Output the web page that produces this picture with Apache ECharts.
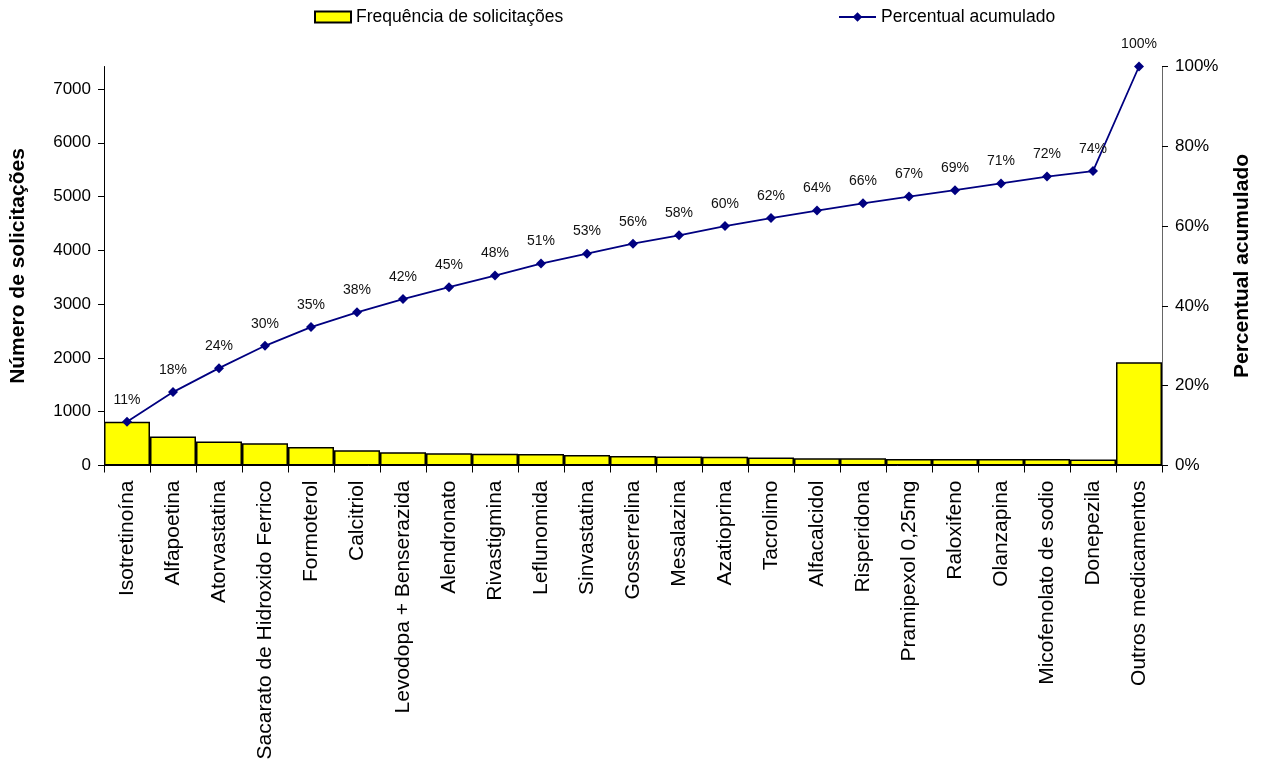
<!DOCTYPE html>
<html>
<head>
<meta charset="utf-8">
<script src="https://cdn.jsdelivr.net/npm/echarts@6/dist/echarts.min.js"></script>
<style>
  html, body { margin: 0; padding: 0; background: #fff; }
  #chart { width: 1261px; height: 765px; }
</style>
</head>
<body>
<div id="chart"></div>
<script>
// Medicamentos (categorias do eixo X)
const medicamentos = [
  'Isotretinoína', 'Alfapoetina', 'Atorvastatina', 'Sacarato de Hidroxido Ferrico',
  'Formoterol', 'Calcitriol', 'Levodopa + Benserazida', 'Alendronato', 'Rivastigmina',
  'Leflunomida', 'Sinvastatina', 'Gosserrelina', 'Mesalazina', 'Azatioprina',
  'Tacrolimo', 'Alfacalcidol', 'Risperidona', 'Pramipexol 0,25mg', 'Raloxifeno',
  'Olanzapina', 'Micofenolato de sodio', 'Donepezila', 'Outros medicamentos'
];

// Frequência de solicitações por medicamento
const frequencia = [
  815, 540, 447, 415, 345, 285, 248, 228, 220, 215, 193, 176, 165,
  164, 147, 134, 133, 122, 121, 120, 120, 110, 1920
];

// Percentual acumulado (%)
const percentualAcumulado = [
  10.96, 18.4, 24.4, 30.0, 34.7, 38.4, 41.7, 44.7, 47.6, 50.6, 53.1, 55.6,
  57.7, 60.0, 62.0, 63.9, 65.7, 67.4, 69.0, 70.7, 72.4, 73.8, 100
];

// Escala do eixo esquerdo: o topo corresponde ao total de solicitações
const totalSolicitacoes = 7418;

const font = 'Liberation Sans, Arial, sans-serif';

const chart = echarts.init(document.getElementById('chart'), null, { renderer: 'canvas' });

chart.setOption({
  backgroundColor: '#ffffff',
  animation: false,
  textStyle: { fontFamily: font },
  legend: [
    {
      left: 309, top: 3,
      itemWidth: 36, itemHeight: 11,
      textStyle: { fontSize: 17.5, color: '#000', fontFamily: font },
      data: [{ name: 'Frequência de solicitações', icon: 'rect' }]
    },
    {
      left: 833, top: 3,
      itemWidth: 37, itemHeight: 12,
      itemGap: 2,
      textStyle: { fontSize: 17.5, color: '#000', fontFamily: font },
      data: [{ name: 'Percentual acumulado' }]
    }
  ],
  grid: { left: 103, right: 96, top: 66.5, bottom: 299.5, containLabel: false },
  xAxis: {
    type: 'category',
    data: medicamentos,
    boundaryGap: true,
    axisLine: { lineStyle: { color: '#000', width: 1 } },
    axisTick: { show: true, alignWithLabel: false, length: 7, lineStyle: { color: '#000' } },
    axisLabel: {
      interval: 0, rotate: 90, margin: 15,
      fontSize: 21, color: '#000', fontFamily: font
    },
    splitLine: { show: false }
  },
  yAxis: [
    {
      type: 'value',
      min: 0, max: totalSolicitacoes, interval: 1000,
      name: 'Número de solicitações',
      nameLocation: 'middle', nameGap: 75, nameRotate: 90,
      nameTextStyle: { fontSize: 21, fontWeight: 'bold', color: '#000', fontFamily: font },
      axisLine: { show: true, lineStyle: { color: '#000' } },
      axisTick: { show: true, length: 6, lineStyle: { color: '#000' } },
      axisLabel: {
        fontSize: 17, color: '#000', margin: 13, fontFamily: font,
        showMaxLabel: false,
        formatter: v => (v % 1000 === 0 ? String(v) : '')
      },
      splitLine: { show: false }
    },
    {
      type: 'value',
      min: 0, max: 100, interval: 20,
      position: 'right',
      name: 'Percentual acumulado',
      nameLocation: 'middle', nameGap: 70, nameRotate: 90,
      nameTextStyle: { fontSize: 21, fontWeight: 'bold', color: '#000', fontFamily: font },
      axisLine: { show: true, lineStyle: { color: '#666' } },
      axisTick: { show: true, length: 6, lineStyle: { color: '#000' } },
      axisLabel: { fontSize: 17, color: '#000', margin: 13, formatter: '{value}%', fontFamily: font },
      splitLine: { show: false }
    }
  ],
  series: [
    {
      name: 'Frequência de solicitações',
      type: 'bar',
      yAxisIndex: 0,
      data: frequencia,
      barCategoryGap: '0%',
      itemStyle: { color: '#FFFF00', borderColor: '#000', borderWidth: 1.5 },
      z: 2
    },
    {
      name: 'Percentual acumulado',
      type: 'line',
      yAxisIndex: 1,
      data: percentualAcumulado,
      symbol: 'diamond',
      symbolSize: 10,
      lineStyle: { color: '#000080', width: 1.8 },
      itemStyle: { color: '#000080' },
      label: {
        show: true, position: 'top', distance: 10,
        fontSize: 14, color: '#111', fontFamily: font,
        formatter: p => Math.round(p.value) + '%'
      },
      z: 3
    }
  ]
});
</script>
</body>
</html>
